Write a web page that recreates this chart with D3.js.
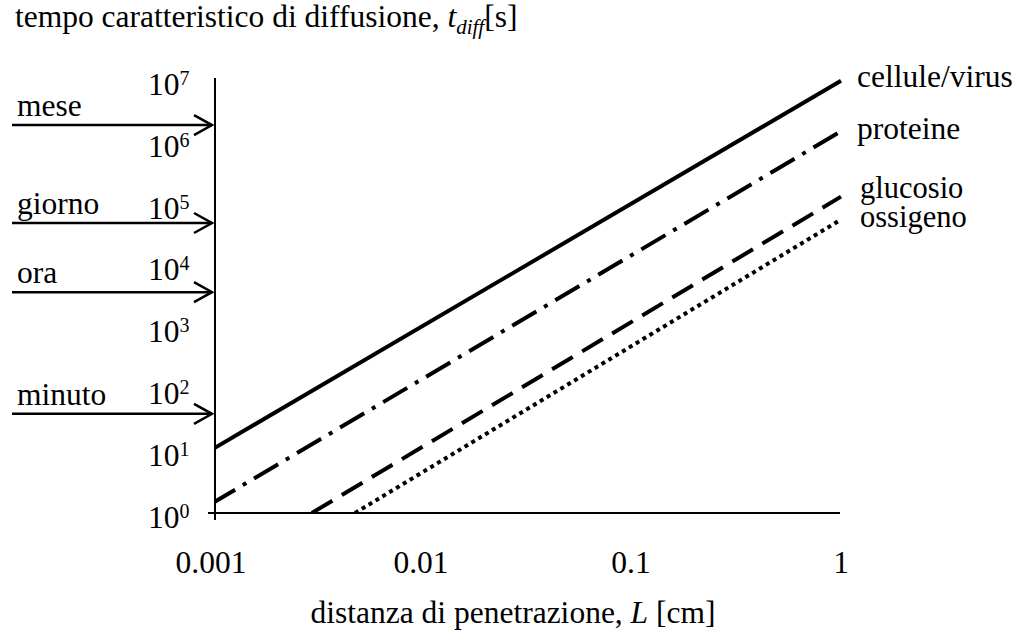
<!DOCTYPE html>
<html>
<head>
<meta charset="utf-8">
<script src="https://cdn.jsdelivr.net/npm/d3@7"></script>
<style>
  html, body { margin: 0; padding: 0; background: #fff; }
  svg { display: block; }
  text { font-family: "Liberation Serif", "Times New Roman", serif; fill: #000; }
</style>
</head>
<body>
<svg id="chart" width="1019" height="637"></svg>
<script>
// ---- data ----
const seriesNames = ["cellule/virus", "proteine", "glucosio", "ossigeno"];
// each series: [L (cm), t (s)] at both ends of the straight log-log line
const cellulePts  = [[0.001, 10.4],   [1, 9.6e6]];
const proteinePts = [[0.001, 1.4],    [1, 1.47e6]];
const glucosioPts = [[0.00302, 1],    [1, 1.29e5]];
const ossigenoPts = [[0.00485, 1],    [1, 5.5e4]];
const seriesPts = [cellulePts, proteinePts, glucosioPts, ossigenoPts];

const xTicks = [0.001, 0.01, 0.1, 1];
const xTickLabels = ["0.001", "0.01", "0.1", "1"];
const yTicks = [1, 10, 100, 1e3, 1e4, 1e5, 1e6, 1e7];
const yTickExp = ["0", "1", "2", "3", "4", "5", "6", "7"];

const arrowLabels = ["mese", "giorno", "ora", "minuto"];
const arrowValues = [1.85e6, 4.84e4, 3.7e3, 40];

// ---- layout / style ----
const svg = d3.select("#chart");
const FS = 31.5;
const x = d3.scaleLog().domain([0.001, 1]).range([211, 841]);
const y = d3.scaleLog().domain([1, 1e7]).range([513, 513 - 7 * 61.9]);
const axisX = 215;           // position of the vertical axis line
const dashes = [null, "28,9,4,9", "24,11", "4,4"];
const labelDx = [857, 857, 860, 860];
const labelBase = [87, 139, 198, 227];
const labelSize = [FS, FS, 30.5, 30.5];

// clip so lines stop at the axes
svg.append("defs").append("clipPath").attr("id", "plotclip")
  .append("rect").attr("x", axisX).attr("y", 60).attr("width", 640).attr("height", y(1) - 60);

// axes lines
svg.append("line").attr("x1", axisX).attr("x2", axisX).attr("y1", 78).attr("y2", 520)
  .attr("stroke", "#000").attr("stroke-width", 2);
svg.append("line").attr("x1", 208).attr("x2", 840).attr("y1", y(1)).attr("y2", y(1))
  .attr("stroke", "#000").attr("stroke-width", 2);

// x tick labels
svg.selectAll("text.xt").data(xTicks).enter().append("text")
  .attr("class", "xt")
  .attr("x", d => x(d)).attr("y", 573)
  .attr("text-anchor", "middle").attr("font-size", FS)
  .text((d, i) => xTickLabels[i]);

// y tick labels 10^n
const yt = svg.selectAll("text.yt").data(yTicks).enter().append("text")
  .attr("class", "yt")
  .attr("x", 148).attr("y", d => y(d) + 15)
  .attr("font-size", FS);
yt.append("tspan").text("10");
yt.append("tspan").attr("font-size", 20).attr("dy", -10).text((d, i) => yTickExp[i]);

// series lines
const line = d3.line().x(d => x(d[0])).y(d => y(d[1]));
svg.append("g").attr("clip-path", "url(#plotclip)")
  .selectAll("path").data(seriesPts).enter().append("path")
  .attr("d", d => line(d))
  .attr("fill", "none").attr("stroke", "#000").attr("stroke-width", 4)
  .attr("stroke-dasharray", (d, i) => dashes[i]);

// series labels
svg.selectAll("text.sl").data(seriesNames).enter().append("text")
  .attr("class", "sl")
  .attr("x", (d, i) => labelDx[i]).attr("y", (d, i) => labelBase[i])
  .attr("font-size", (d, i) => labelSize[i]).text(d => d);

// time arrows
const ag = svg.append("g");
arrowValues.forEach((v, i) => {
  const yy = y(v);
  ag.append("line").attr("x1", 12).attr("x2", 212).attr("y1", yy).attr("y2", yy)
    .attr("stroke", "#000").attr("stroke-width", 2.5);
  ag.append("path").attr("d", `M${194},${yy - 10}L212,${yy}L${194},${yy + 10}`)
    .attr("fill", "none").attr("stroke", "#000").attr("stroke-width", 2.5);
  ag.append("text").attr("x", 17).attr("y", yy - 9).attr("font-size", FS).text(arrowLabels[i]);
});

// y title
const yTitle = svg.append("text").attr("x", 15).attr("y", 27).attr("font-size", FS);
yTitle.append("tspan").text("tempo caratteristico di diffusione, ");
yTitle.append("tspan").attr("font-style", "italic").text("t");
yTitle.append("tspan").attr("font-style", "italic").attr("font-size", 21).attr("dy", 7).text("diff");
yTitle.append("tspan").attr("dy", -7).text("[s]");

// x title
const xTitle = svg.append("text").attr("x", 513).attr("y", 623)
  .attr("text-anchor", "middle").attr("font-size", FS);
xTitle.append("tspan").text("distanza di penetrazione, ");
xTitle.append("tspan").attr("font-style", "italic").text("L");
xTitle.append("tspan").text(" [cm]");
</script>
</body>
</html>
